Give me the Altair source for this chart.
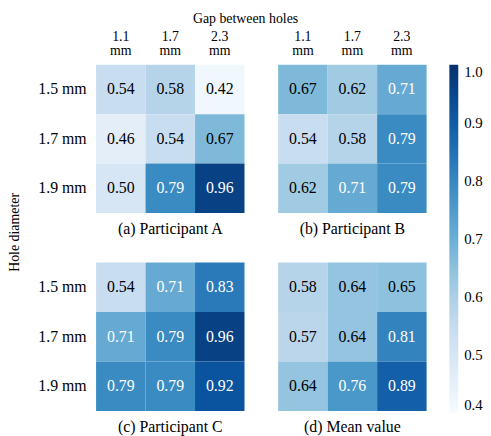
import altair as alt
import pandas as pd

gaps = ["1.1 mm", "1.7 mm", "2.3 mm"]
diams = ["1.5 mm", "1.7 mm", "1.9 mm"]

vals_a = [[0.54, 0.58, 0.42], [0.46, 0.54, 0.67], [0.50, 0.79, 0.96]]
vals_b = [[0.67, 0.62, 0.71], [0.54, 0.58, 0.79], [0.62, 0.71, 0.79]]
vals_c = [[0.54, 0.71, 0.83], [0.71, 0.79, 0.96], [0.79, 0.79, 0.92]]
vals_d = [[0.58, 0.64, 0.65], [0.57, 0.64, 0.81], [0.64, 0.76, 0.89]]

subtitles = ["(a) Participant A", "(b) Participant B", "(c) Participant C", "(d) Mean value"]

blues = ["#f7fbff", "#deebf7", "#c6dbef", "#9ecae1", "#6baed6",
         "#4292c6", "#2171b5", "#08519c", "#08306b"]
dom = [0.4 + i * 0.075 for i in range(9)]
color_scale = alt.Scale(domain=dom, range=blues, interpolate="rgb")

FONT = "Liberation Serif"


def panel(vals, subtitle, show_x, show_y):
    rows = []
    for i, d in enumerate(diams):
        for j, g in enumerate(gaps):
            rows.append({"gap": g, "diam": d, "v": vals[i][j]})
    df = pd.DataFrame(rows)
    if show_x:
        xaxis = alt.Axis(orient="top", labelAngle=0, ticks=False, domain=False,
                         title=None, labelExpr="split(datum.label, ' ')",
                         labelFont=FONT, labelColor="black",
                         labelFontSize=14, labelLineHeight=14, labelPadding=21,
                         labelBaseline="bottom")
    else:
        xaxis = None
    if show_y:
        yaxis = alt.Axis(ticks=False, domain=False, title=None,
                         labelFont=FONT, labelColor="black",
                         labelFontSize=16, labelPadding=10)
    else:
        yaxis = None
    base = alt.Chart(df).encode(
        x=alt.X("gap:N", sort=gaps, axis=xaxis),
        y=alt.Y("diam:N", sort=diams, axis=yaxis),
    )
    rect = base.mark_rect().encode(
        color=alt.Color("v:Q", scale=color_scale,
                        legend=alt.Legend(title=None, values=[0.4, 0.5, 0.6, 0.7, 0.8, 0.9, 1.0],
                                          format=".1f", gradientLength=352,
                                          gradientThickness=9, labelFontSize=15,
                                          labelFont=FONT, labelColor="black",
                                          offset=23, labelOffset=6))
    )
    text = base.mark_text(font=FONT, fontSize=16).encode(
        text=alt.Text("v:Q", format=".2f"),
        color=alt.condition(alt.datum.v >= 0.7, alt.value("white"), alt.value("black")),
    )
    return alt.layer(rect, text).properties(
        width=150, height=150,
        title=alt.TitleParams(subtitle, orient="bottom", fontSize=16, offset=8,
                              font=FONT, fontWeight="normal", color="black",
                              anchor="middle"),
    )


pa = panel(vals_a, subtitles[0], True, True)
pb = panel(vals_b, subtitles[1], True, False)
pc = panel(vals_c, subtitles[2], False, True)
pd_ = panel(vals_d, subtitles[3], False, False)

row1 = alt.hconcat(pa, pb, spacing=34)
row2 = alt.hconcat(pc, pd_, spacing=34)
inner = alt.vconcat(row1, row2, spacing=26).properties(
    title=alt.TitleParams("Hole diameter", orient="left", fontSize=14, offset=16,
                          font=FONT, fontWeight="normal", color="black",
                          anchor="middle")
)
chart = alt.vconcat(inner).properties(
    title=alt.TitleParams("Gap between holes", orient="top", fontSize=14, offset=4,
                          font=FONT, fontWeight="normal", color="black",
                          anchor="middle"),
    padding={"left": 0, "top": 2, "right": 0, "bottom": 0},
    background="white",
).resolve_scale(color="shared").configure_view(strokeWidth=0).configure_axis(
    labelFont=FONT, labelColor="black"
)

chart.save("out.html", embed_options={"renderer": "svg", "actions": False})
